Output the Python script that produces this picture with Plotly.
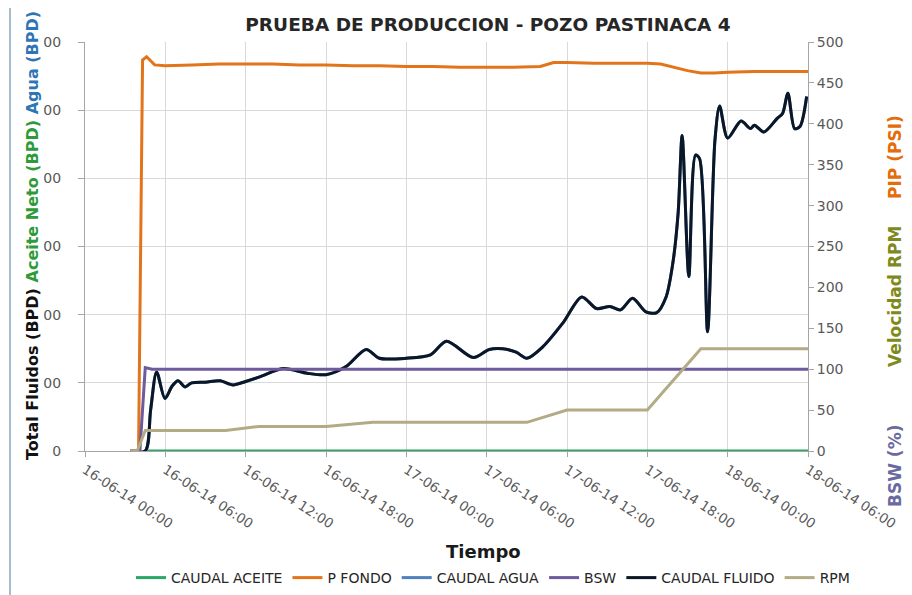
import pandas as pd
import plotly.graph_objects as go

# ---------------- data (hours from 16-06-14 00:00) ----------------
BASE = pd.Timestamp("2014-06-16 00:00")

aceite_h = [4.7, 54.0]
aceite_v = [0, 0]

pfondo_h = [3.4, 4.0, 4.3, 4.6, 5.2, 6, 8, 10, 12, 14, 16, 18, 20, 22, 24, 26, 28, 30,
            32, 34, 35, 36, 38, 40, 42, 43, 44, 45, 46, 47, 48, 50, 52, 54]
pfondo_v = [0, 0, 478, 482, 472, 471, 472, 473, 473, 473, 472, 472, 471, 471, 470, 470,
            469, 469, 469, 470, 475, 475, 474, 474, 474, 473, 469, 465, 462, 462, 463,
            464, 464, 464]

bsw_h = [3.4, 4.1, 4.5, 5.0, 54.0]
bsw_v = [0, 0, 102, 100, 100]

fluido_h = [3.4, 4.5, 4.9, 5.35, 5.97, 6.5, 6.95, 7.47, 7.97, 9.0, 10.1, 11.05, 12.0,
            13.1, 14.8, 16.6, 18.0, 19.5, 21.0, 22.0, 24.0, 25.8, 27.0, 29.0, 30.2,
            31.2, 32.2, 33.0, 34.2, 35.7, 37.1, 38.2, 39.2, 40.0, 40.9, 41.9, 42.7,
            43.4, 43.9, 44.3, 44.6, 45.1, 45.6, 45.9, 46.5, 47.05, 47.4, 48.0, 49.0,
            49.7, 50.0, 50.7, 51.7, 52.1, 52.5, 53.0, 53.4, 53.9]
fluido_v = [0, 0, 60, 116, 77, 95, 103, 94, 100, 101, 103, 97, 102,
            109, 121, 114, 112, 124, 149, 136, 136, 141, 161, 137, 149,
            150, 145, 136, 153, 188, 226, 209, 212, 207, 224, 204, 203,
            226, 275, 349, 463, 256, 434, 429, 175, 456, 506, 459, 484,
            473, 478, 468, 488, 495, 525, 473, 476, 520]

# BSW = 100 % -> water rate equals total fluid rate
agua_h = fluido_h
agua_v = fluido_v

rpm_h = [3.4, 3.9, 4.5, 10.5, 13.0, 18.0, 21.5, 33.0, 36.0, 42.0, 46.0, 54.0]
rpm_v = [0, 0, 25, 25, 30, 30, 35, 35, 50, 50, 125, 125]

x_tick_hours = [0, 6, 12, 18, 24, 30, 36, 42, 48, 54]
left_tickvals = [0, 100, 200, 300, 400, 500, 600]
left_ticktext = ["0", "00", "00", "00", "00", "00", "00"]


def to_time(hours):
    return [BASE + pd.Timedelta(hours=h) for h in hours]


C_ACEITE = "#2aa866"
C_PFONDO = "#e2741c"
C_AGUA = "#4f81bd"
C_BSW = "#6e5a9c"
C_FLUIDO = "#0b1726"
C_RPM = "#b3ab84"

fig = go.Figure()
fig.add_trace(go.Scatter(x=to_time(agua_h), y=agua_v, name="CAUDAL AGUA", mode="lines",
                         line=dict(color=C_AGUA, width=3, shape="spline", smoothing=0.8),
                         yaxis="y", legendrank=3))
fig.add_trace(go.Scatter(x=to_time(pfondo_h), y=pfondo_v, name="P FONDO", mode="lines",
                         line=dict(color=C_PFONDO, width=3), yaxis="y2", legendrank=2))
fig.add_trace(go.Scatter(x=to_time(bsw_h), y=bsw_v, name="BSW", mode="lines",
                         line=dict(color=C_BSW, width=3), yaxis="y2", legendrank=4))
fig.add_trace(go.Scatter(x=to_time(fluido_h), y=fluido_v, name="CAUDAL FLUIDO", mode="lines",
                         line=dict(color=C_FLUIDO, width=3, shape="spline", smoothing=0.8),
                         yaxis="y", legendrank=5))
fig.add_trace(go.Scatter(x=to_time(rpm_h), y=rpm_v, name="RPM", mode="lines",
                         line=dict(color=C_RPM, width=3), yaxis="y2", legendrank=6))
fig.add_trace(go.Scatter(x=to_time(aceite_h), y=aceite_v, name="CAUDAL ACEITE", mode="lines",
                         line=dict(color=C_ACEITE, width=3), yaxis="y", legendrank=1))

FONT = "DejaVu Sans"

# The page body has an 8px margin, so the figure is 8px smaller than the window
# and all page positions below are measured in window pixels.
OFF = 8
W, H = 912 - OFF, 595 - OFF
PL, PR, PT, PB = 85, 808, 42, 451  # plot area edges in window pixels

fig.update_layout(
    width=W, height=H,
    margin=dict(l=PL - OFF, r=W - (PR - OFF), t=PT - OFF, b=H - (PB - OFF), autoexpand=False),
    paper_bgcolor="white", plot_bgcolor="white",
    title=dict(text="<b>PRUEBA DE PRODUCCION - POZO PASTINACA 4</b>",
               x=(488 - OFF) / W, xanchor="center", y=1 - (25 - OFF) / H, yanchor="middle",
               font=dict(family=FONT, size=18.5, color="#262626")),
    xaxis=dict(
        type="date", automargin=False,
        range=[BASE, BASE + pd.Timedelta(hours=54)],
        tickvals=to_time(x_tick_hours),
        tickformat="%d-%m-%y %H:%M",
        tickangle=33,
        tickfont=dict(family=FONT, size=13.5, color="#595959"),
        showgrid=True, gridcolor="#d9d9d9", gridwidth=1,
        showline=True, linecolor="#a6a6a6",
        ticks="outside", ticklen=5, tickcolor="#a6a6a6",
        zeroline=False,
    ),
    yaxis=dict(
        range=[0, 600], automargin=False,
        tickvals=left_tickvals, ticktext=left_ticktext,
        tickfont=dict(family=FONT, size=14, color="#595959"),
        ticklabelstandoff=14,
        showgrid=True, gridcolor="#d9d9d9", gridwidth=1,
        showline=True, linecolor="#a6a6a6",
        ticks="outside", ticklen=6, tickcolor="#a6a6a6",
        zeroline=False,
    ),
    yaxis2=dict(
        range=[0, 500], dtick=50, overlaying="y", side="right", automargin=False,
        tickfont=dict(family=FONT, size=14, color="#595959"),
        showgrid=False,
        showline=True, linecolor="#a6a6a6",
        ticks="outside", ticklen=5, tickcolor="#a6a6a6",
        zeroline=False,
    ),
    legend=dict(
        orientation="h", x=(493 - PL) / (PR - PL), xanchor="center",
        y=(PB - 578) / (PB - PT), yanchor="middle",
        font=dict(family=FONT, size=14, color="#262626"),
        traceorder="normal", bgcolor="rgba(0,0,0,0)",
    ),
    showlegend=True,
)


def px_x(x):
    return (x - PL) / (PR - PL)


def px_y(y):
    return (PB - y) / (PB - PT)


# outer frame
fig.add_shape(type="rect", xref="paper", yref="paper",
              x0=px_x(10), x1=px_x(918), y0=px_y(600), y1=px_y(7),
              line=dict(color="#a9bcc8", width=2), fillcolor="rgba(0,0,0,0)", layer="below")

# axis titles as annotations
fig.add_annotation(
    text="<b>Tiempo</b>", xref="paper", yref="paper",
    x=px_x(483), y=px_y(551), xanchor="center", yanchor="middle",
    showarrow=False, font=dict(family=FONT, size=18, color="#1a1a1a"))

fig.add_annotation(
    text=("<b><span style='color:#111111'>Total Fluidos (BPD)</span> "
          "<span style='color:#2e9a3a'>Aceite Neto (BPD)</span> "
          "<span style='color:#2e75b6'>Agua (BPD)</span></b>"),
    xref="paper", yref="paper",
    x=px_x(33), y=px_y(236), xanchor="center", yanchor="middle",
    textangle=-90, showarrow=False, font=dict(family=FONT, size=16))

right_titles = [("PIP (PSI)", "#e46c0a", 157), ("Velocidad RPM", "#7f8a1e", 297),
                ("BSW (%)", "#6a6aa0", 466)]
for txt, col, yc in right_titles:
    fig.add_annotation(
        text=f"<b>{txt}</b>", xref="paper", yref="paper",
        x=px_x(895), y=px_y(yc), xanchor="center", yanchor="middle",
        textangle=-90, showarrow=False, font=dict(family=FONT, size=17, color=col))

fig.write_html("out.html")
